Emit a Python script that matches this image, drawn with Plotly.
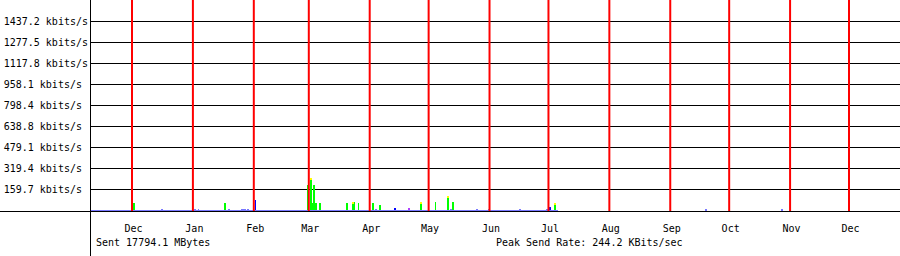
import plotly.graph_objects as go
import pandas as pd

# ---------------- data ----------------
month_starts = ["2006-12-01", "2007-01-01", "2007-02-01", "2007-03-01", "2007-04-01",
                "2007-05-01", "2007-06-01", "2007-07-01", "2007-08-01", "2007-09-01",
                "2007-10-01", "2007-11-01", "2007-12-01"]
month_labels = ["Dec", "Jan", "Feb", "Mar", "Apr", "May", "Jun", "Jul", "Aug", "Sep",
                "Oct", "Nov", "Dec"]

y_ticks = [159.7, 319.4, 479.1, 638.8, 798.4, 958.1, 1117.8, 1277.5, 1437.2]
y_tick_labels = ["159.7 kbits/s", "319.4 kbits/s", "479.1 kbits/s", "638.8 kbits/s",
                 "798.4 kbits/s", "958.1 kbits/s", "1117.8 kbits/s", "1277.5 kbits/s",
                 "1437.2 kbits/s"]

# low continuous background traffic (light blue band)
band_starts = ["2006-11-10 00:00", "2006-12-21 08:40", "2007-02-03 03:20", "2007-03-08 05:30",
               "2007-04-12 20:50", "2007-04-30 16:30", "2007-05-25 03:00", "2007-06-14 23:20",
               "2007-06-28 04:50"]
band_ends = ["2006-12-20 08:00", "2007-02-02 03:00", "2007-03-06 17:00", "2007-04-11 08:10",
             "2007-04-29 16:00", "2007-05-24 14:40", "2007-06-14 11:20", "2007-06-27 16:50",
             "2007-07-05 20:40"]
band_level = 7.6

# small light-blue bumps
bump_dates = ["2006-12-16 00:30", "2007-01-01 19:40", "2007-01-03 20:25", "2007-01-19 03:00",
              "2007-01-19 15:10", "2007-01-25 17:50", "2007-01-26 18:15", "2007-01-27 18:40",
              "2007-01-28 19:10", "2007-04-03 23:00", "2007-05-12 03:20", "2007-05-25 21:00",
              "2007-05-31 23:20", "2007-06-16 18:15", "2007-06-30 12:00", "2007-09-18 22:50",
              "2007-10-27 15:20"]
bump_vals = [15, 15, 15, 15, 15, 15, 15, 15, 15, 15, 15, 15, 15, 15, 15, 8, 8]

# green spikes
green_dates = ["2006-12-01 18:20", "2007-01-17 02:10", "2007-02-28 08:10", "2007-03-01 20:50",
               "2007-03-02 09:05", "2007-03-03 09:35", "2007-03-04 09:55", "2007-03-06 10:50",
               "2007-03-20 04:50", "2007-03-23 06:00", "2007-03-23 18:15", "2007-03-26 07:15",
               "2007-04-02 10:20", "2007-04-06 00:00", "2007-04-26 20:50", "2007-05-04 12:00",
               "2007-05-10 14:40", "2007-05-13 03:50", "2007-07-04 02:00"]
green_vals = [60, 60, 197, 244.2, 60, 197, 60, 60, 60, 68, 68, 60, 60, 45, 68, 68, 113, 68, 60]

# yellow tips on top of some green spikes
tip_dates = ["2007-03-01 20:50", "2007-03-23 06:00", "2007-04-26 20:50", "2007-05-10 14:40",
             "2007-07-04 02:00"]

# dark blue bars
dblue_dates = ["2007-02-01 20:50", "2007-04-13 15:10", "2007-07-01 19:00"]
dblue_vals = [83, 23, 30]

# purple bar
purple_dates = ["2007-04-20 18:15"]
purple_vals = [23]

sent_text = "Sent 17794.1 MBytes"
peak_text = "Peak Send Rate: 244.2 KBits/sec"

# ---------------- figure ----------------
W, H = 900, 256
L_PX, B_PX = 91, 45
PLOT_H = H - B_PX
X_RANGE = ["2006-11-10 03:00", "2007-12-26 23:00"]
PX_MS = (pd.Timestamp(X_RANGE[1]) - pd.Timestamp(X_RANGE[0])).total_seconds() * 1000 / (W - L_PX)
FONT = dict(family="DejaVu Sans Mono", size=10, color="black")

LIGHT_BLUE = "#7878ff"

fig = go.Figure()

# band
bx, by = [], []
for s, e in zip(band_starts, band_ends):
    bx += [s, e, None]
    by += [band_level, band_level, None]
fig.add_trace(go.Scatter(x=bx, y=by, mode="lines", line=dict(width=0, color=LIGHT_BLUE),
                         fill="tozeroy", fillcolor=LIGHT_BLUE, connectgaps=False,
                         hoverinfo="skip"))

fig.add_trace(go.Bar(x=bump_dates, y=bump_vals, width=PX_MS, marker=dict(color=LIGHT_BLUE, line=dict(width=0))))
fig.add_trace(go.Bar(x=green_dates, y=green_vals, width=PX_MS, marker=dict(color="#00ff00", line=dict(width=0))))
gmap = dict(zip(green_dates, green_vals))
tip_px_val = 1597 / PLOT_H
fig.add_trace(go.Bar(x=tip_dates, y=[tip_px_val] * len(tip_dates),
                     base=[gmap[d] - tip_px_val for d in tip_dates], width=PX_MS,
                     marker=dict(color="#ffff00", line=dict(width=0))))
fig.add_trace(go.Bar(x=dblue_dates, y=dblue_vals, width=[PX_MS, PX_MS, 2 * PX_MS],
                     marker=dict(color="#0000ff", line=dict(width=0))))
fig.add_trace(go.Bar(x=purple_dates, y=purple_vals, width=PX_MS,
                     marker=dict(color="#b040ff", line=dict(width=0))))

label_pos = [pd.Timestamp(m) + pd.Timedelta(hours=18) for m in month_starts]

shapes = []
for m in month_starts:
    shapes.append(dict(type="line", xref="x", yref="paper", x0=m, x1=m, y0=0, y1=1,
                       line=dict(color="#ff0000", width=2), layer="above"))
# left vertical axis line, full height
shapes.append(dict(type="line", xref="paper", yref="paper",
                   x0=(L_PX - 0.5) / W, x1=(L_PX - 0.5) / W, y0=-B_PX / PLOT_H, y1=1,
                   line=dict(color="black", width=1), layer="above"))
# baseline, full width
shapes.append(dict(type="line", xref="paper", yref="paper", x0=0, x1=1,
                   y0=-0.5 / PLOT_H, y1=-0.5 / PLOT_H,
                   line=dict(color="black", width=1), layer="above"))

fig.update_layout(
    width=W, height=H, autosize=False,
    margin=dict(l=0, r=0, t=0, b=B_PX, pad=0),
    paper_bgcolor="white", plot_bgcolor="white",
    showlegend=False, barmode="overlay",
    font=FONT,
    shapes=shapes,
    xaxis=dict(type="date", domain=[L_PX / W, 1], range=X_RANGE,
               tickvals=label_pos, ticktext=month_labels, tickfont=FONT,
               showgrid=False, zeroline=False, showline=False, ticks="",
               ticklabelstandoff=10, automargin=False, fixedrange=True),
    yaxis=dict(range=[0, 1597], tickvals=y_ticks,
               ticktext=[t + "\u00a0" * (14 - len(t)) for t in y_tick_labels],
               tickfont=FONT, showgrid=True, gridcolor="black", gridwidth=1,
               zeroline=False, showline=False, ticks="", ticklabelstandoff=2,
               automargin=False, fixedrange=True),
    annotations=[
        dict(text=sent_text, xref="paper", yref="paper", x=94 / W, y=(PLOT_H - 242.5) / PLOT_H,
             xanchor="left", yanchor="middle", showarrow=False, font=FONT),
        dict(text=peak_text, xref="paper", yref="paper", x=494 / W, y=(PLOT_H - 242.5) / PLOT_H,
             xanchor="left", yanchor="middle", showarrow=False, font=FONT),
    ],
)

fig.write_html("out.html")
